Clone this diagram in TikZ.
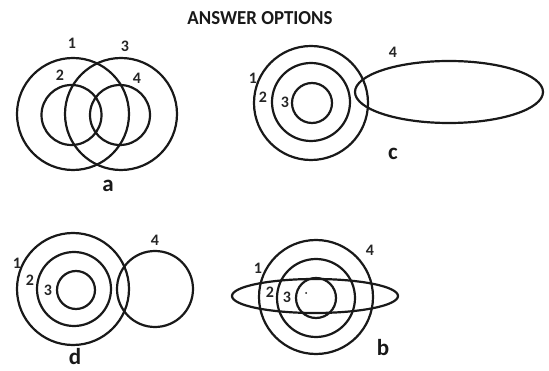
\documentclass[tikz,border=0pt]{standalone}
\usepackage{fontspec}
\setmainfont{Carlito}
\usetikzlibrary{shapes.geometric}
\begin{document}
\begin{tikzpicture}[x=1pt,y=-1pt,
  ring/.style={draw=black!90, line width=2.2pt, circle, inner sep=0pt, minimum size=#1},
  oval/.style={draw=black!90, line width=2.2pt, ellipse, inner sep=0pt},
  num/.style={font=\fontsize{16}{16}\selectfont\bfseries, text=black!85, inner sep=0pt},
  letter/.style={font=\fontsize{23}{23}\selectfont\bfseries, text=black!90, inner sep=0pt}]
\useasboundingbox (0,0) rectangle (549,371);
\node[inner sep=0pt, text=black!90] (title) at (260,18) {\resizebox{145pt}{13pt}{\bfseries ANSWER OPTIONS}};
% a
\node[ring=112pt] (a1) at (73,114) {};
\node[ring=112pt] (a3) at (121,114) {};
\node[ring=60pt] (a2) at (71.5,115) {};
\node[ring=60pt] (a4) at (120,115) {};
\node[num] (la1) at (72,43) {1};
\node[num] (la3) at (125,46) {3};
\node[num] (la2) at (60,75) {2};
\node[num] (la4) at (137,78) {4};
\node[letter] (la) at (108,186) {a};
% c
\node[ring=114pt] (c1) at (311,103) {};
\node[ring=78pt] (c2) at (311,102) {};
\node[ring=40pt] (c3) at (312,103) {};
\node[oval, minimum width=188pt, minimum height=62pt] (c4) at (449,92) {};
\node[num] (lc4) at (393,52) {4};
\node[num] (lc1) at (253,78) {1};
\node[num] (lc2) at (263,97) {2};
\node[num] (lc3) at (285,102) {3};
\node[letter] (lc) at (393,154) {c};
% d
\node[ring=112pt] (d1) at (73,289) {};
\node[ring=74pt] (d2) at (74,289) {};
\node[ring=38pt] (d3) at (76,290) {};
\node[ring=76pt] (d4) at (155,289) {};
\node[num] (ld1) at (17,263) {1};
\node[num] (ld2) at (30,280) {2};
\node[num] (ld3) at (48,290) {3};
\node[num] (ld4) at (155,240) {4};
\node[letter] (ld) at (75,357) {d};
% b
\node[ring=114pt] (b1) at (316,297) {};
\node[ring=78pt] (b2) at (316,298) {};
\node[ring=40pt] (b3) at (316,298) {};
\node[oval, minimum width=166pt, minimum height=34pt] (b4) at (315,296) {};
\node[num] (lb1) at (258,268) {1};
\node[num] (lb2) at (270,292) {2};
\node[num] (lb3) at (287,297) {3};
\node[circle, fill=black!90, inner sep=0pt, minimum size=2pt] (bdot) at (306,293) {};
\node[num] (lb4) at (370,250) {4};
\node[letter] (lb) at (383,348) {b};
\end{tikzpicture}
\end{document}
